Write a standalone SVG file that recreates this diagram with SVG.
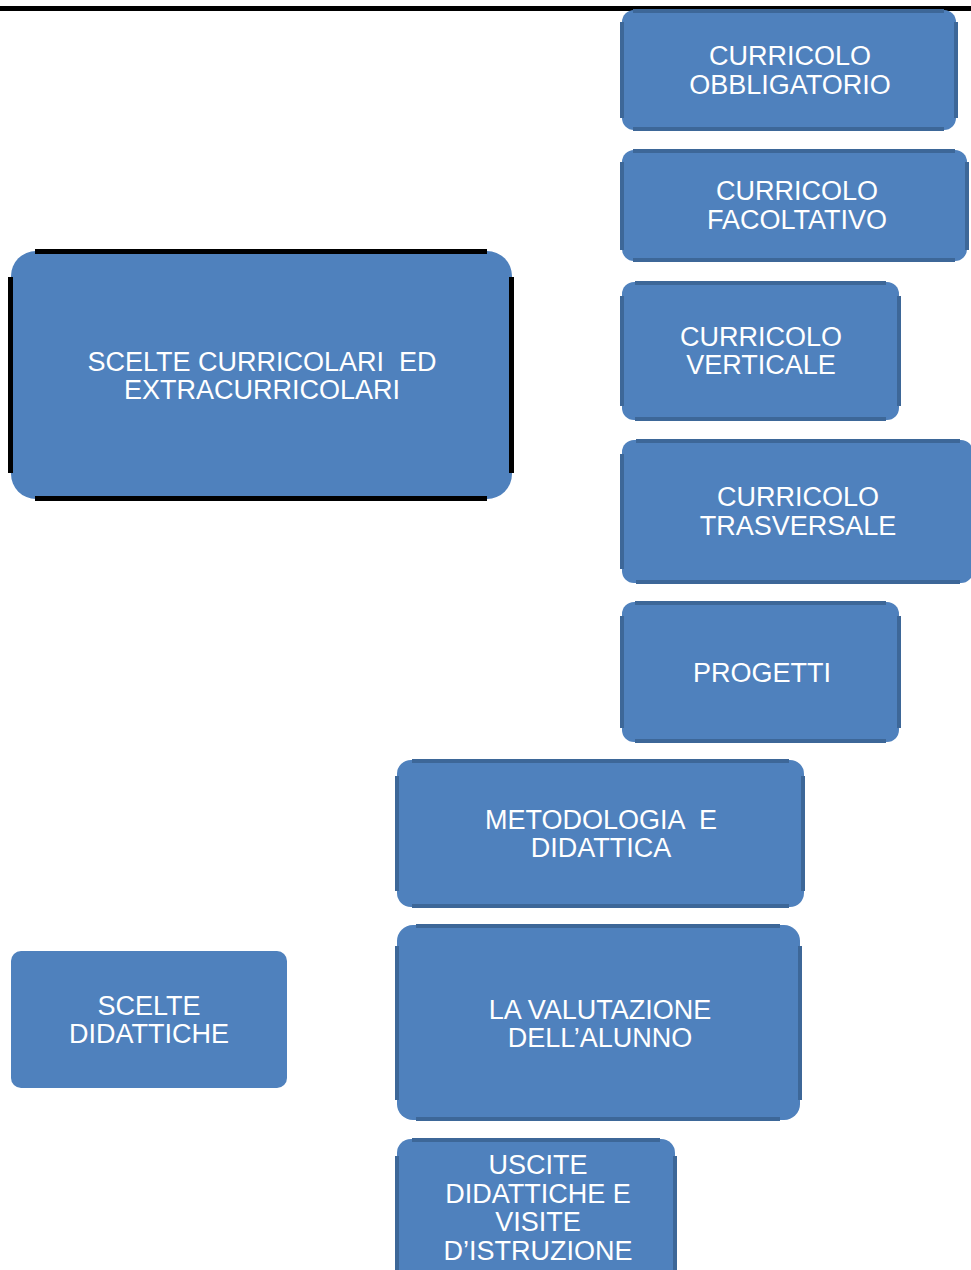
<svg xmlns="http://www.w3.org/2000/svg" width="971" height="1270" viewBox="0 0 971 1270">
<style>
.f{fill:#4F81BD}
.e{fill:#3D6798}
.k{fill:#000}
.t{font-family:"Liberation Sans",Arial,sans-serif;font-size:27px;fill:#fff;text-anchor:middle;white-space:pre}
</style>
<rect width="971" height="1270" fill="#fff"/>
<rect class="k" x="0" y="6" width="971" height="5"/>
<g id="connectors"></g>
<g id="n-main">
<rect class="f" x="11" y="251" width="501" height="248" rx="25"/>
<rect class="k" x="35" y="249" width="452" height="5"/>
<rect class="k" x="35" y="496" width="452" height="5"/>
<rect class="k" x="8" y="277" width="5" height="196"/>
<rect class="k" x="509" y="277" width="5" height="196"/>
<text class="t" x="262" y="371">SCELTE CURRICOLARI  ED</text>
<text class="t" x="262" y="399">EXTRACURRICOLARI</text>
</g>
<g id="n-obbligatorio">
<rect class="f" x="622" y="10" width="334" height="120" rx="12"/>
<rect class="e" x="633" y="9" width="311" height="4"/>
<rect class="e" x="633" y="127" width="311" height="4"/>
<rect class="e" x="620" y="22" width="4" height="96"/>
<rect class="e" x="954" y="22" width="4" height="96"/>
<text class="t" x="790" y="65">CURRICOLO</text>
<text class="t" x="790" y="94">OBBLIGATORIO</text>
</g>
<g id="n-facoltativo">
<rect class="f" x="622" y="150" width="345" height="111" rx="12"/>
<rect class="e" x="633" y="149" width="322" height="4"/>
<rect class="e" x="633" y="258" width="322" height="4"/>
<rect class="e" x="620" y="162" width="4" height="88"/>
<rect class="e" x="965" y="162" width="4" height="88"/>
<text class="t" x="797" y="200">CURRICOLO</text>
<text class="t" x="797" y="229">FACOLTATIVO</text>
</g>
<g id="n-verticale">
<rect class="f" x="622" y="282" width="277" height="138" rx="12"/>
<rect class="e" x="635" y="281" width="251" height="4"/>
<rect class="e" x="635" y="417" width="251" height="4"/>
<rect class="e" x="620" y="296" width="4" height="110"/>
<rect class="e" x="897" y="296" width="4" height="110"/>
<text class="t" x="761" y="346">CURRICOLO</text>
<text class="t" x="761" y="374">VERTICALE</text>
</g>
<g id="n-trasversale">
<rect class="f" x="622" y="440" width="351" height="143" rx="12"/>
<rect class="e" x="636" y="439" width="324" height="4"/>
<rect class="e" x="636" y="580" width="324" height="4"/>
<rect class="e" x="620" y="454" width="4" height="115"/>
<text class="t" x="798" y="506">CURRICOLO</text>
<text class="t" x="798" y="535">TRASVERSALE</text>
</g>
<g id="n-progetti">
<rect class="f" x="622" y="602" width="277" height="140" rx="12"/>
<rect class="e" x="635" y="601" width="251" height="4"/>
<rect class="e" x="635" y="739" width="251" height="4"/>
<rect class="e" x="620" y="616" width="4" height="112"/>
<rect class="e" x="897" y="616" width="4" height="112"/>
<text class="t" x="762" y="682">PROGETTI</text>
</g>
<g id="n-metodologia">
<rect class="f" x="397" y="760" width="407" height="147" rx="14"/>
<rect class="e" x="412" y="759" width="377" height="4"/>
<rect class="e" x="412" y="904" width="377" height="4"/>
<rect class="e" x="395" y="776" width="4" height="115"/>
<rect class="e" x="801" y="776" width="4" height="115"/>
<text class="t" x="601" y="829">METODOLOGIA  E</text>
<text class="t" x="601" y="857">DIDATTICA</text>
</g>
<g id="n-valutazione">
<rect class="f" x="397" y="925" width="403" height="195" rx="16"/>
<rect class="e" x="416" y="924" width="364" height="4"/>
<rect class="e" x="416" y="1117" width="364" height="4"/>
<rect class="e" x="395" y="946" width="4" height="154"/>
<rect class="e" x="798" y="946" width="4" height="154"/>
<text class="t" x="600" y="1019">LA VALUTAZIONE</text>
<text class="t" x="600" y="1047">DELL’ALUNNO</text>
</g>
<g id="n-uscite">
<rect class="f" x="397" y="1139" width="278" height="150" rx="14"/>
<rect class="e" x="412" y="1138" width="248" height="4"/>
<rect class="e" x="395" y="1156" width="4" height="114"/>
<rect class="e" x="673" y="1156" width="4" height="114"/>
<text class="t" x="538" y="1174">USCITE</text>
<text class="t" x="538" y="1203">DIDATTICHE E</text>
<text class="t" x="538" y="1231">VISITE</text>
<text class="t" x="538" y="1260">D’ISTRUZIONE</text>
</g>
<g id="n-scelte-didattiche">
<rect class="f" x="11" y="951" width="276" height="137" rx="10"/>
<text class="t" x="149" y="1015">SCELTE</text>
<text class="t" x="149" y="1043">DIDATTICHE</text>
</g>
</svg>
